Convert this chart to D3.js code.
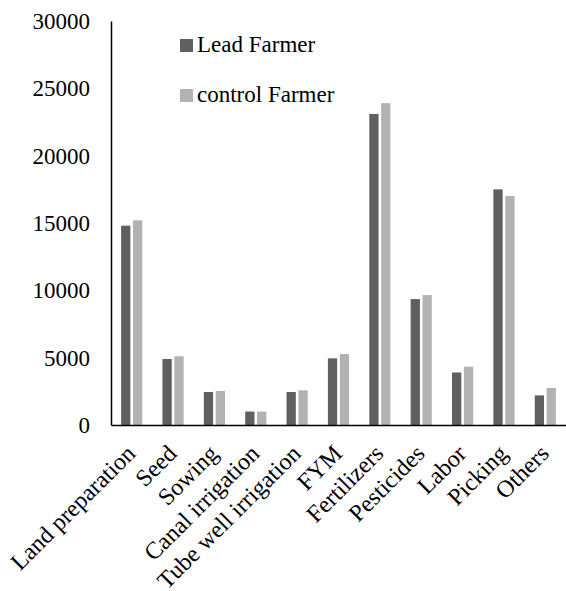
<!DOCTYPE html>
<html>
<head>
<meta charset="utf-8">
<script src="https://cdn.jsdelivr.net/npm/d3@7/dist/d3.min.js"></script>
<style>
  html, body { margin: 0; padding: 0; background: #fff; }
  svg { display: block; }
  svg text { font-family: "Liberation Serif", "Times New Roman", serif; fill: #000; }
</style>
</head>
<body>
<svg id="chart" width="566" height="591"></svg>
<script>
// Production cost items
const categories = ["Land preparation", "Seed", "Sowing", "Canal irrigation",
  "Tube well irrigation", "FYM", "Fertilizers", "Pesticides", "Labor", "Picking", "Others"];
const leadFarmer = [14800, 4900, 2450, 1000, 2450, 4950, 23100, 9350, 3900, 17500, 2200];
const controlFarmer = [15200, 5100, 2525, 1000, 2575, 5270, 23900, 9650, 4330, 17000, 2750];
const seriesNames = ["Lead Farmer", "control Farmer"];
const yTicks = [0, 5000, 10000, 15000, 20000, 25000, 30000];

const colors = ["#606060", "#b2b2b2"];
const svg = d3.select("#chart");
const m = { left: 111, right: 566, top: 21, bottom: 425 };

const x = d3.scaleBand().domain(categories).range([m.left, m.right]).paddingInner(0).paddingOuter(0);
const xInner = d3.scaleBand().domain([0, 1]).range([0, x.bandwidth()]).paddingInner(0.22).paddingOuter(0.85);
const y = d3.scaleLinear().domain([0, 30000]).range([m.bottom, m.top]);

// bars
const rows = categories.map((c, i) => ({ c, vals: [leadFarmer[i], controlFarmer[i]] }));
const g = svg.append("g");
rows.forEach(r => {
  r.vals.forEach((v, k) => {
    g.append("rect")
      .attr("x", x(r.c) + xInner(k))
      .attr("y", y(v))
      .attr("width", xInner.bandwidth())
      .attr("height", y(0) - y(v))
      .attr("fill", colors[k]);
  });
});

// y axis
const yAxis = d3.axisLeft(y).tickValues(yTicks).tickSize(0).tickPadding(21).tickFormat(d3.format("d"));
const ya = svg.append("g").attr("transform", `translate(${m.left},0)`).call(yAxis);
ya.attr("font-family", null).attr("font-size", 23);
ya.select(".domain").attr("stroke", "#000").attr("stroke-width", 1.5);
ya.selectAll("text").style("font-size", "23px");

// x axis
const xAxis = d3.axisBottom(x).tickSize(0).tickFormat("");
const xa = svg.append("g").attr("transform", `translate(0,${m.bottom})`).call(xAxis);
xa.select(".domain").attr("stroke", "#000").attr("stroke-width", 1.5);

// rotated category labels
svg.append("g").selectAll("text").data(categories).join("text")
  .attr("transform", d => `translate(${x(d) + x.bandwidth() / 2 + 5},${m.bottom + 30}) rotate(-45)`)
  .attr("text-anchor", "end")
  .style("font-size", "24px")
  .text(d => d);

// legend
const legend = svg.append("g");
seriesNames.forEach((name, k) => {
  const ly = 39 + k * 50;
  legend.append("rect").attr("x", 180).attr("y", ly).attr("width", 13).attr("height", 13).attr("fill", colors[k]);
  legend.append("text").attr("x", 197).attr("y", ly + 13).style("font-size", "23px").text(name);
});
</script>
</body>
</html>
